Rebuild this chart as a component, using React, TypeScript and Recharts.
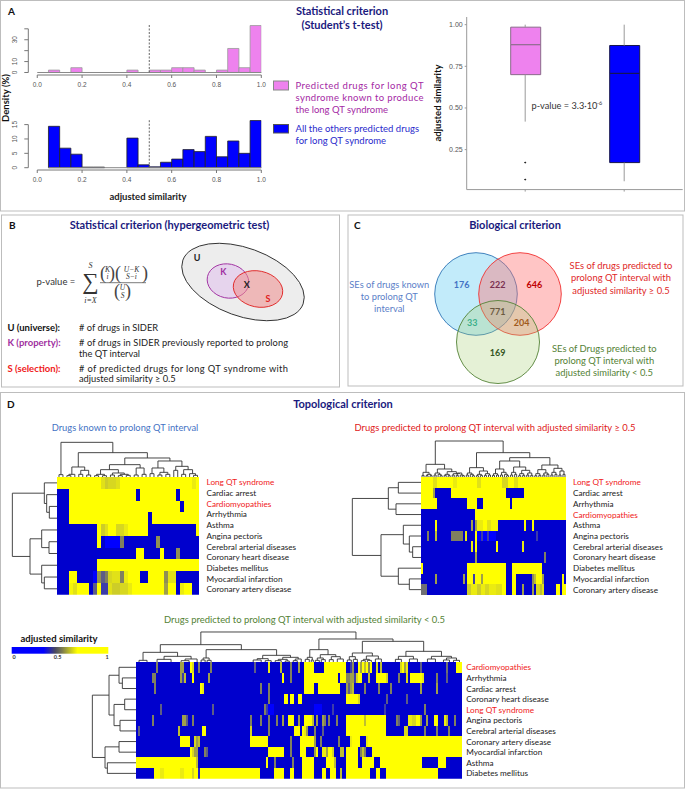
import React from 'react';
import {
  BarChart, Bar, ComposedChart, Line, ScatterChart, Scatter, XAxis, YAxis, ReferenceLine, Cell,
} from 'recharts';

// panel A histograms
const histMids = [0.025, 0.075, 0.125, 0.175, 0.225, 0.275, 0.325, 0.375, 0.425, 0.475, 0.525, 0.575, 0.625, 0.675, 0.725, 0.775, 0.825, 0.875, 0.925, 0.975];
const densityKnown = [0, 2.2, 0, 4.4, 0, 0, 0, 0, 2.2, 0, 2.2, 2.2, 4.4, 4.4, 2.2, 0, 2.2, 22, 4.4, 43];
const densityOthers = [0, 14.4, 6.8, 4.7, 0.2, 0.2, 0, 0, 10.3, 1, 0.3, 1.9, 3, 6.3, 5.6, 10.9, 3.8, 9.3, 5, 16.4];
const histXTicks = [0, 0.2, 0.4, 0.6, 0.8, 1];

// panel A box plot
const boxCategories = ['known', 'others'];
const boxQ1 = [0.7, 0.172];
const boxMedian = [0.88, 0.708];
const boxQ3 = [0.985, 0.875];
const whiskerLow = [0.418, 0.06];
const whiskerHigh = [1, 1];
const outlierA = [0.172, null];
const outlierB = [0.07, null];
const boxFills = ['#EE82EE', '#0000FF'];
const boxStrokes = ['#8a6a8a', '#16164a'];

// panel B and C diagrams
const setEllipses = [
  { x: 243, y: 69, rx: 64, ry: 34, rot: 20 },
  { x: 228, y: 68, rx: 21, ry: 17, rot: 12 },
  { x: 258, y: 76, rx: 25, ry: 18, rot: 12 },
];
const setEllipseFills = ['#EDEDED', '#E4D0EC', '#EE8C8C'];
const setEllipseOpacity = [1, 0.9, 0.55];
const setEllipseStrokes = ['#333333', '#A030A0', '#E02828'];
const vennCircles = [
  { x: 128, y: 79, rx: 41.3, ry: 41.3, rot: 0 },
  { x: 172, y: 79, rx: 41.3, ry: 41.3, rot: 0 },
  { x: 150, y: 127, rx: 41.5, ry: 41.5, rot: 0 },
];
const vennFills = ['#78D2F5', '#FF6E6E', '#A8D278'];
const vennOpacity = [0.45, 0.4, 0.3];
const vennStrokes = ['#2E75B6', '#F03030', '#548235'];

// heatmaps: each row is a list of [similarity, number of columns]
type Run = [number, number];
const heat1Labels = ['Long QT syndrome', 'Cardiac arrest', 'Cardiomyopathies', 'Arrhythmia', 'Asthma', 'Angina pectoris', 'Cerebral arterial diseases', 'Coronary heart disease', 'Diabetes mellitus', 'Myocardial infarction', 'Coronary artery disease'];
const heat1Rows: Run[][] = [
  [[1, 11], [0.85, 1], [0.75, 1], [0.8, 2], [0.85, 1], [1, 18], [0.9, 1], [1, 1]],
  [[0, 3], [1, 17], [0, 1], [1, 9], [0, 1], [1, 5]],
  [[0, 3], [1, 28], [0, 1], [1, 4]],
  [[0, 3], [1, 20], [0, 1], [1, 12]],
  [[0, 10], [1, 1], [0.75, 1], [0.85, 1], [1, 2], [0.8, 2], [0.9, 1], [1, 5], [0, 12], [1, 1]],
  [[0, 10], [1, 1], [0, 1], [0.1, 4], [0.5, 1], [0, 8], [0.55, 1], [0, 10]],
  [[0, 20], [1, 2], [0, 4], [1, 1], [0, 3], [0.55, 1], [0, 5]],
  [[0, 10], [1, 26]],
  [[0, 3], [1, 2], [0, 4], [0.1, 1], [0.55, 1], [0.4, 1], [0.5, 1], [0.8, 1], [0.85, 2], [0.5, 1], [0.9, 1], [1, 3], [0, 2], [1, 4], [0.55, 1], [0.85, 2], [0, 6]],
  [[0, 3], [0.95, 1], [0.85, 1], [1, 3], [0, 1], [0.4, 1], [1, 1], [0.3, 2], [0.85, 1], [0.75, 2], [0.8, 2], [0.9, 1], [1, 8], [0.6, 1], [1, 2], [0, 1], [0.9, 1], [1, 2], [0, 2]],
];
const heat2Labels = ['Long QT syndrome', 'Cardiac arrest', 'Arrhythmia', 'Cardiomyopathies', 'Asthma', 'Angina pectoris', 'Cerebral arterial diseases', 'Coronary heart disease', 'Diabetes mellitus', 'Myocardial infarction', 'Coronary artery disease'];
const heat2Rows: Run[][] = [
  [[1, 6], [0.85, 2], [1, 8], [0.9, 2], [1, 10], [0.85, 2], [1, 10], [0.8, 3], [1, 3], [0.85, 2], [1, 24]],
  [[1, 6], [0.6, 1], [0, 8], [1, 27], [0, 9], [1, 21]],
  [[1, 8], [0, 15], [1, 5], [0, 3], [1, 13], [0, 1], [1, 27]],
  [[0, 27], [1, 45]],
  [[0, 7], [1, 1], [0, 17], [0.6, 1], [0, 1], [0.6, 1], [0.9, 3], [1, 2], [0.85, 2], [0.95, 3], [0, 13], [1, 1], [0, 3], [1, 1], [0, 16]],
  [[0, 3], [0.5, 1], [0, 3], [0.7, 1], [0, 7], [0.5, 6], [0, 1], [0.9, 1], [0, 4], [1, 1], [0.1, 2], [0.3, 1], [0.1, 2], [0.3, 1], [0.1, 3], [0, 20], [0.3, 1], [0, 14]],
  [[0, 25], [0.9, 1], [0, 1], [1, 1], [0, 9], [1, 1], [0, 12], [0.9, 1], [0, 21]],
  [[0, 27], [0.6, 1], [0, 33], [0.5, 1], [0, 10]],
  [[1, 1], [0, 22], [1, 19], [0, 3], [1, 15], [0, 12]],
  [[0, 7], [0.6, 1], [0, 13], [0.6, 1], [0, 1], [1, 3], [0.3, 1], [1, 3], [0.6, 1], [1, 11], [0, 3], [1, 2], [0, 8], [0.55, 1], [0.7, 1], [1, 3], [0.6, 1], [0, 9], [1, 1], [0, 1]],
  [[0.45, 3], [0, 20], [0.75, 2], [0.9, 3], [0.75, 2], [0.9, 2], [0.8, 2], [0.9, 3], [0.85, 3], [1, 2], [0, 3], [1, 2], [0, 3], [0.6, 1], [0, 4], [0.6, 1], [0, 1], [0.8, 2], [0.7, 1], [0.85, 1], [0, 6], [1, 2], [0, 1], [1, 2]],
];
const heat3Labels = ['Cardiomyopathies', 'Arrhythmia', 'Cardiac arrest', 'Coronary heart disease', 'Long QT syndrome', 'Angina pectoris', 'Cerebral arterial diseases', 'Coronary artery disease', 'Myocardial infarction', 'Asthma', 'Diabetes mellitus'];
const heat3Rows: Run[][] = [
  [[0, 10], [0.5, 1], [0, 11], [0.6, 2], [0, 3], [1, 1], [0.8, 1], [0, 2], [0.5, 1], [0, 5], [0.5, 1], [0, 21], [0.4, 1], [0, 6], [0.9, 1], [0, 5], [0.7, 1], [0, 4], [0.5, 1], [0, 3], [0.6, 1], [0, 2], [1, 5], [0, 5], [1, 11], [0, 2], [0.3, 1], [0.55, 1], [0, 2], [1, 1], [0.6, 1], [1, 1], [0.7, 1], [1, 1], [0.5, 1], [1, 1], [0, 2], [0.8, 1], [0, 1], [0.7, 1], [0, 9], [0.8, 1], [1, 1], [0.6, 1], [0.9, 1], [0, 6], [0.4, 1], [0, 12], [0.45, 1], [0, 4], [1, 3]],
  [[0, 8], [0.5, 2], [0, 12], [0.6, 1], [0.3, 1], [0.7, 1], [0, 3], [1, 1], [0, 7], [0.6, 1], [0, 36], [1, 1], [0, 3], [0.5, 1], [0, 6], [1, 17], [0, 1], [1, 3], [0.5, 2], [0.6, 2], [0.3, 1], [0.8, 1], [1, 2], [0, 3], [0.7, 1], [0, 3], [1, 5], [0.8, 1], [0, 5], [0.5, 1], [0, 3], [0.8, 1], [0, 1], [1, 6], [0.9, 1], [0, 6], [0.5, 1], [0, 4], [0.4, 1], [0, 7]],
  [[0, 9], [0.5, 1], [0, 22], [1, 1], [0.9, 1], [0, 28], [0.5, 1], [0, 3], [0.5, 1], [0, 17], [1, 5], [0, 2], [1, 11], [0, 3], [0.6, 1], [0.4, 1], [0.6, 1], [0.7, 1], [0, 5], [0.5, 1], [0, 6], [0.5, 1], [0, 5], [0.5, 1], [0, 14], [0.6, 1], [0, 7], [0.6, 1], [0, 12]],
  [[0, 66], [0.5, 1], [0, 7], [1, 2], [0, 1], [1, 2], [0, 2], [1, 2], [0, 22], [1, 6], [0.8, 1], [0, 13], [0.4, 1], [0, 9], [0.4, 1], [0, 27]],
  [[0, 12], [0.4, 1], [0, 25], [0.4, 1], [0, 25], [0.5, 1], [0.3, 1], [0.1, 3], [0, 20], [0.1, 4], [0, 5], [0.3, 1], [0, 25], [0.3, 1], [0, 19], [0.5, 1], [0, 18]],
  [[0, 8], [0.5, 1], [0, 14], [0.6, 2], [0.4, 1], [0, 2], [0.5, 1], [0, 28], [0.5, 1], [0, 4], [0.5, 1], [0, 3], [0.5, 1], [0, 3], [0.5, 1], [0, 2], [0.6, 1], [0, 2], [1, 3], [0, 2], [0.6, 1], [0, 2], [1, 4], [0.7, 1], [0, 1], [0.6, 1], [0, 2], [0.6, 1], [0.5, 1], [0, 1], [0.5, 1], [0, 3], [0.5, 1], [0, 4], [1, 9], [0.7, 1], [1, 10], [0, 5], [0.5, 1], [0.4, 1], [0, 4], [0.9, 2], [0.8, 2], [1, 2], [0.6, 1], [0, 2], [0.6, 1], [0, 3], [1, 2], [0, 3], [0.9, 1], [0.7, 1], [0, 3], [0.5, 1], [0, 3]],
  [[0, 1], [0.4, 1], [0, 19], [0.7, 1], [0, 11], [1, 2], [0, 22], [0.8, 1], [0, 8], [0.5, 1], [0, 12], [1, 3], [0, 1], [1, 1], [0.9, 1], [0.6, 1], [0, 3], [0.5, 1], [0, 3], [0.4, 1], [0, 11], [1, 20], [0, 9], [0.8, 2], [0, 8], [0.5, 1], [0, 5], [0.5, 1], [0, 5], [0.5, 1], [0, 6]],
  [[0, 22], [1, 5], [0, 2], [0.8, 1], [0.6, 1], [0.7, 1], [0, 25], [1, 9], [0, 11], [0.5, 1], [0, 4], [1, 7], [0.6, 1], [0, 2], [0.5, 1], [0, 8], [0.5, 1], [0, 5], [0.9, 1], [1, 4], [0, 3], [0.9, 1], [1, 47]],
  [[0, 27], [1, 1], [0.8, 1], [0.6, 2], [0, 3], [0.5, 1], [0.4, 1], [0, 30], [1, 8], [0, 3], [0.5, 1], [0, 4], [1, 3], [0, 4], [0.6, 1], [1, 1], [0, 2], [0.9, 2], [0.6, 1], [1, 2], [0.8, 1], [0, 3], [0.7, 2], [0, 1], [1, 6], [0, 1], [0.5, 1], [0.7, 1], [0.5, 1], [0, 3], [1, 45]],
  [[1, 30], [0.7, 1], [0, 34], [1, 1], [0, 3], [0.5, 1], [0, 8], [0.5, 1], [0, 4], [1, 6], [0, 6], [1, 4], [0.7, 1], [0, 5], [1, 6], [0, 2], [1, 6], [0, 3], [1, 21], [0, 8], [1, 4], [0, 8]],
  [[0, 9], [1, 3], [0.9, 2], [1, 8], [0.9, 2], [1, 4], [0.8, 1], [1, 2], [0.2, 1], [1, 30], [0, 7], [1, 5], [0, 3], [1, 2], [0, 4], [1, 6], [0, 4], [1, 2], [0, 2], [1, 3], [0, 2], [0.7, 1], [0, 2], [1, 12], [0, 3], [1, 2], [0, 3], [1, 26], [0, 12]],
];

// dendrograms: [merge height, left, right]; a bare number is a leaf index
type Tree = number | [number, Tree, Tree];
const heat1RowTree: Tree = [134, [38, 0, [31, 1, [23, 2, 3]]], [81, [46, 4, [24, 5, 6]], [46, 7, [38, 8, 9]]]];
const heat1ColTree: Tree = [104, [7, 0, 1], [73,
  [30, [8, [4, 2, 3], 4], [20, [8, 5, 6], [6, 7, 8]]],
  [57,
    [37, [22, [8, [4, 9, 10], [4, 11, 12]], [12, [6, 13, 14], [8, [4, 15, 16], [5, 17, 18]]]], [27, [6, 19, 20], [8, 21, 22]]],
    [48, [27, [10, 23, 24], [14, [6, 25, 26], [8, 27, 28]]], [32, [20, 29, 30], [22, [8, 31, 32], [10, 33, [5, 34, 35]]]]],
  ],
]];
const heat2RowTree: Tree = [206, [98, [68, 0, 1], [75, 2, 3]], [120, [53, 4, [35, 5, [25, 6, 7]]], [68, 8, [35, 9, 10]]]];
const heat2ColTree: Tree = [108,
  [38, [14, [5, 0, 1], [8, [4, 2, 3], [4, 4, 5]]], [24, [12, [6, 6, 7], [8, 8, [4, 9, 10]]], [16, [8, [5, 11, 12], [4, 13, 14]], [10, [6, 15, 16], [12, [5, 17, 18], [6, 19, [4, 20, 21]]]]]]],
  [73,
    [28, [12, [6, 22, 23], [8, 24, [4, 25, 26]]], [18, [8, [4, 27, 28], [5, 29, 30]], [10, [5, 31, 32], [6, 33, 34]]]],
    [58,
      [48, [24, [10, [5, 35, 36], [6, 37, 38]], [14, [6, 39, 40], [8, 41, [4, 42, 43]]]], [30, [14, [6, 44, 45], [8, 46, 47]], [20, [10, [4, 48, 49], [5, 50, 51]], [12, [6, 52, 53], [5, 54, 55]]]]],
      [36, [22, [10, [4, 56, 57], [5, 58, 59]], [12, [6, 60, 61], [8, 62, 63]]], [26, [14, [6, 64, 65], [8, 66, 67]], [18, [6, 68, 69], [8, 70, 71]]]],
    ],
  ],
];
const heat3RowTree: Tree = [131, [81, [51, 0, [41, 1, 2]], [66, [34, 3, 4], [48, 5, 6]]], [93, [51, 7, 8], [86, 9, 10]]];
const heat3ColTree: Tree = [90,
  [52,
    [29, [5, 1, 5], [17, [8, 10, 17], [9, [4, 22, 26], 30]]],
    [37, [12, [6, 32, 34], [5, 35, 37]], [20, [10, [6, 58, 62], [4, 64, 67]], [14, [8, [4, 69, 72], [3, 74, 76]], [9, [4, 78, 80], 82]]]],
  ],
  [69,
    [37, [14, [8, 84, 86], [6, 87, 88]], [22, [12, [5, 89, 91], [7, 92, 94]], [16, [7, 96, 98], [9, 100, 103]]]],
    [62,
      [27, [16, [6, 105, 107], [8, 108, 110]], [18, [8, [4, 112, 114], [5, 115, 117]], [9, 119, 122]]],
      [32, [17, [8, 129, 132], [9, 136, 140]], [17, [9, 145, 149], [12, [6, 153, 156], [5, 158, 161]]]],
    ],
  ],
];
const redLabels = ['Long QT syndrome', 'Cardiomyopathies'];

const TEXT = 'Lato, sans-serif';
const AXIS_TEXT = '"Liberation Sans", Arial, sans-serif';
const NAVY = '#1A1A7E';
const expand = (runs: Run[]) => runs.flatMap(([v, n]) => Array(n).fill(v) as number[]);

const heatStops: [number, number[]][] = [
  [0, [0, 0, 205]], [0.1, [0, 0, 255]], [0.3, [60, 60, 170]], [0.5, [128, 128, 96]], [0.75, [205, 205, 40]], [1, [255, 255, 0]],
];
const heatColor = (v: number) => {
  const i = Math.max(0, heatStops.findIndex(([s]) => s >= v) - 1);
  const [a, ca] = heatStops[i];
  const [b, cb] = heatStops[i + 1];
  const t = (v - a) / (b - a);
  const ch = ca.map((c, k) => Math.round(c + (cb[k] - c) * t));
  return `rgb(${ch[0]},${ch[1]},${ch[2]})`;
};

type Seg = [[number, number], [number, number]];
// walks a tree and lists its line pieces as [position, height] pairs
const walk = (t: Tree, out: Seg[]): [number, number] => {
  if (typeof t === 'number') return [t + 0.5, 0];
  const [h, l, r] = t;
  const [pl, hl] = walk(l, out);
  const [pr, hr] = walk(r, out);
  out.push([[pl, hl], [pl, h]], [[pl, h], [pr, h]], [[pr, h], [pr, hr]]);
  return [(pl + pr) / 2, h];
};

interface HeatProps {
  left: number; top: number; width: number; height: number;
  rows: Run[][]; labels: string[]; rowTree: Tree; colTree: Tree;
  treeLeft: number; treeTop: number; labelWidth: number; labelGap: number;
}

const Heatmap = ({ left, top, width, height, rows, labels, rowTree, colTree, treeLeft, treeTop, labelWidth, labelGap }: HeatProps) => {
  const nCols = expand(rows[0]).length;
  const nRows = rows.length;
  const cw = width / nCols;
  const rh = height / nRows;
  const cells = rows.flatMap((row, r) => expand(row).map((value, c) => ({ x: c + 0.5, y: r + 0.5, value })));
  const rowSegs: Seg[] = [];
  const colSegs: Seg[] = [];
  walk(rowTree, rowSegs);
  walk(colTree, colSegs);
  const labelTicks = labels.map((_, i) => ((i + 0.5) * nRows) / labels.length);
  return (
    <div style={{ position: 'absolute', left: left - treeLeft, top: top - treeTop }}>
      <ScatterChart width={treeLeft + width + labelWidth} height={treeTop + height} margin={{ top: 0, right: 0, bottom: 0, left: 0 }}>
        <XAxis type="number" dataKey="x" hide domain={[-treeLeft / cw, nCols]} allowDataOverflow />
        <YAxis type="number" dataKey="y" orientation="right" reversed width={labelWidth} domain={[-treeTop / rh, nRows]} allowDataOverflow
          ticks={labelTicks} interval={0} axisLine={false} tickLine={false} tickSize={0} tickMargin={0}
          tick={(p: any) => {
            const name = labels[labelTicks.indexOf(p.payload.value)];
            return (
              <text x={p.x + labelGap} y={p.y + 3} fontSize={8.2} fontFamily={TEXT} fill={redLabels.includes(name) ? '#F02020' : '#222'}>{name}</text>
            );
          }} />
        <Scatter data={cells} isAnimationActive={false}
          shape={(p: any) => (
            <rect x={p.cx - cw / 2} y={p.cy - rh / 2} width={cw} height={rh} fill={heatColor(p.payload.value)} shapeRendering="crispEdges" />
          )} />
        {colSegs.map(([a, b], i) => (
          <ReferenceLine key={`c${i}`} stroke="#333" strokeWidth={0.9}
            segment={[{ x: a[0], y: -a[1] / 3 / rh }, { x: b[0], y: -b[1] / 3 / rh }]} />
        ))}
        {rowSegs.map(([a, b], i) => (
          <ReferenceLine key={`r${i}`} stroke="#333" strokeWidth={0.9}
            segment={[{ x: -a[1] / 3 / cw, y: a[0] }, { x: -b[1] / 3 / cw, y: b[0] }]} />
        ))}
      </ScatterChart>
    </div>
  );
};

interface HistProps {
  top: number; height: number; values: number[]; fill: string; stroke: string;
  yDomain: [number, number]; yTicks: number[]; yLabels: number[]; dashTop: number; baseFrom: number;
}

const Histogram = ({ top, height, values, fill, stroke, yDomain, yTicks, yLabels, dashTop, baseFrom }: HistProps) => {
  const data = histMids.map((mid, i) => ({ mid, density: values[i] }));
  return (
    <div style={{ position: 'absolute', left: 0, top }}>
      <BarChart width={272} height={height} data={data} margin={{ top: 0, right: 10.7, bottom: 0, left: 0 }} barGap={0}>
        <XAxis type="number" dataKey="mid" domain={[-0.04, 1]} allowDataOverflow ticks={histXTicks} interval={0} height={16}
          tickFormatter={(v) => v.toFixed(1)} axisLine={false} tickSize={3} tickMargin={4} stroke="#777"
          tick={{ fontSize: 6.5, fontFamily: AXIS_TEXT, fill: '#555' }} />
        <YAxis type="number" domain={yDomain} allowDataOverflow ticks={yTicks} interval={0} width={28.3} axisLine={false} tickSize={4} stroke="#777"
          tick={(p: any) => (yLabels.includes(p.payload.value) ? (
            <text x={17} y={p.y} fontSize={6.5} fontFamily={AXIS_TEXT} fill="#555" textAnchor="middle" transform={`rotate(-90 17 ${p.y})`}>{p.payload.value}</text>
          ) : <g />)} />
        <Bar dataKey="density" barSize={11.2} fill={fill} stroke={stroke} strokeWidth={0.8} isAnimationActive={false} />
        <ReferenceLine stroke="#888" segment={[{ x: baseFrom, y: 0 }, { x: 1, y: 0 }]} />
        <ReferenceLine stroke="#777" segment={[{ x: 0, y: yDomain[0] }, { x: 1, y: yDomain[0] }]} />
        <ReferenceLine stroke="#777" segment={[{ x: -0.04, y: yTicks[0] }, { x: -0.04, y: yTicks[yTicks.length - 1] }]} />
        <ReferenceLine stroke="#666" strokeDasharray="2 1.5" segment={[{ x: 0.5, y: 0 }, { x: 0.5, y: dashTop }]} />
      </BarChart>
    </div>
  );
};

const BoxPlot = () => {
  const data = boxCategories.map((name, i) => ({
    name,
    base: boxQ1[i],
    lower: boxMedian[i] - boxQ1[i],
    upper: boxQ3[i] - boxMedian[i],
    outA: outlierA[i],
    outB: outlierB[i],
  }));
  return (
    <div style={{ position: 'absolute', left: 430, top: 16.7 }}>
      <ComposedChart width={252.7} height={178.6} data={data} margin={{ top: 0, right: 0, bottom: 0, left: 0 }}>
        <XAxis dataKey="name" height={6} padding={{ left: 9, right: 9 }} stroke="#999" tickSize={2} tickFormatter={() => ''} />
        <YAxis type="number" domain={[0.01, 1.046]} allowDataOverflow ticks={[0.25, 0.5, 0.75, 1]} interval={0} width={36.7} stroke="#999" tickSize={2}
          tickFormatter={(v) => v.toFixed(2)} tick={{ fontSize: 7, fontFamily: AXIS_TEXT, fill: '#555' }} />
        {boxCategories.map((name, i) => (
          <React.Fragment key={name}>
            <ReferenceLine stroke="#999" segment={[{ x: name, y: whiskerLow[i] }, { x: name, y: boxQ1[i] }]} />
            <ReferenceLine stroke="#999" segment={[{ x: name, y: boxQ3[i] }, { x: name, y: whiskerHigh[i] }]} />
          </React.Fragment>
        ))}
        <Bar dataKey="base" stackId="box" barSize={30} fill="none" stroke="none" isAnimationActive={false} />
        <Bar dataKey="lower" stackId="box" barSize={30} isAnimationActive={false}>
          {boxCategories.map((name, i) => <Cell key={name} fill={boxFills[i]} stroke={boxStrokes[i]} />)}
        </Bar>
        <Bar dataKey="upper" stackId="box" barSize={30} isAnimationActive={false}>
          {boxCategories.map((name, i) => <Cell key={name} fill={boxFills[i]} stroke={boxStrokes[i]} />)}
        </Bar>
        <Line dataKey="outA" stroke="none" dot={{ r: 0.5, fill: '#111', stroke: '#111' }} isAnimationActive={false} />
        <Line dataKey="outB" stroke="none" dot={{ r: 0.5, fill: '#111', stroke: '#111' }} isAnimationActive={false} />
      </ComposedChart>
    </div>
  );
};

interface ShapeDatum { x: number; y: number; rx: number; ry: number; rot: number }

const SetDiagram = ({ left, top, width, height, shapes, fills, opacity, strokes }: {
  left: number; top: number; width: number; height: number; shapes: ShapeDatum[]; fills: string[]; opacity: number[]; strokes: string[];
}) => (
  <div style={{ position: 'absolute', left, top }}>
    <ScatterChart width={width} height={height} margin={{ top: 0, right: 0, bottom: 0, left: 0 }}>
      <XAxis type="number" dataKey="x" hide domain={[0, width]} />
      <YAxis type="number" dataKey="y" hide reversed domain={[0, height]} />
      <Scatter data={shapes} isAnimationActive={false}
        shape={(p: any) => {
          const i = shapes.indexOf(p.payload);
          const { rx, ry, rot } = p.payload;
          return (
            <ellipse cx={p.cx} cy={p.cy} rx={rx} ry={ry} transform={`rotate(${rot} ${p.cx} ${p.cy})`}
              fill={fills[i]} fillOpacity={opacity[i]} stroke={strokes[i]} strokeWidth={0.9} />
          );
        }} />
    </ScatterChart>
  </div>
);

const T = ({ x, y, s = 10, c = '#222', b, a, len, f, i, children }: any) => (
  <text x={x} y={y} fontSize={s} fill={c} fontWeight={b ? 700 : 400} fontStyle={i ? 'italic' : 'normal'} textAnchor={a ?? 'start'}
    fontFamily={f ?? TEXT} textLength={len} lengthAdjust={len ? 'spacing' : undefined}>{children}</text>
);
const SERIF = '"Liberation Serif", serif';

const App = () => (
  <div style={{ position: 'absolute', left: 0, top: 0, width: 685, height: 789, background: '#fff', overflow: 'hidden' }}>
    <Histogram top={25} height={66} values={densityKnown} fill="#EE82EE" stroke="#999" yDomain={[-2.3, 43.5]} yTicks={[0, 10, 20, 30, 40]} yLabels={[0, 10, 30]} dashTop={43.5} baseFrom={0} />
    <Histogram top={120} height={66} values={densityOthers} fill="#0000FF" stroke="#222" yDomain={[-0.8, 16.6]} yTicks={[0, 5, 10, 15]} yLabels={[0, 5, 10, 15]} dashTop={16.6} baseFrom={0.05} />
    <BoxPlot />
    <SetDiagram left={0} top={213} width={340} height={174} shapes={setEllipses} fills={setEllipseFills} opacity={setEllipseOpacity} strokes={setEllipseStrokes} />
    <SetDiagram left={348} top={215} width={335} height={171} shapes={vennCircles} fills={vennFills} opacity={vennOpacity} strokes={vennStrokes} />
    <Heatmap left={57} top={477.3} width={142.5} height={117.7} rows={heat1Rows} labels={heat1Labels} rowTree={heat1RowTree} colTree={heat1ColTree} treeLeft={46} treeTop={36} labelWidth={110} labelGap={7} />
    <Heatmap left={421} top={477.3} width={145} height={118} rows={heat2Rows} labels={heat2Labels} rowTree={heat2RowTree} colTree={heat2ColTree} treeLeft={70} treeTop={37} labelWidth={116} labelGap={7} />
    <Heatmap left={135.5} top={662.3} width={326.5} height={116.7} rows={heat3Rows} labels={heat3Labels} rowTree={heat3RowTree} colTree={heat3ColTree} treeLeft={45} treeTop={31} labelWidth={125} labelGap={3.7} />

    <svg width={685} height={789} style={{ position: 'absolute', left: 0, top: 0, pointerEvents: 'none' }}>
      <defs>
        <linearGradient id="simGrad" x1="0" y1="0" x2="1" y2="0">
          <stop offset="0" stopColor="#0000FF" />
          <stop offset="0.33" stopColor="#0000FF" />
          <stop offset="0.45" stopColor="#4A4A60" />
          <stop offset="0.52" stopColor="#7A7A50" />
          <stop offset="0.68" stopColor="#FFFF00" />
          <stop offset="1" stopColor="#FFFF00" />
        </linearGradient>
      </defs>
      <g fill="none" stroke="#BDBDBD" strokeWidth={1}>
        <rect x={0.5} y={0.5} width={684} height={210.5} />
        <rect x={1.5} y={215} width={338} height={172} />
        <rect x={348} y={215} width={335} height={171} />
        <rect x={0.5} y={392.5} width={684} height={395.5} />
      </g>

      {/* panel A */}
      <T x={8} y={15} s={10} b c="#111">A</T>
      <T x={342} y={15} s={11} b c={NAVY} a="middle">Statistical criterion</T>
      <T x={342} y={28.5} s={11} b c={NAVY} a="middle">(Student’s t-test)</T>
      <g transform="rotate(-90 9 98)"><T x={9} y={98} s={9.5} b c="#111" a="middle">Density (%)</T></g>
      <T x={148} y={200} s={9.5} b c="#222" a="middle">adjusted similarity</T>
      <rect x={273.5} y={81} width={15} height={9} fill="#EE82EE" stroke="#888" />
      <T x={295.5} y={89} s={9.5} c="#A428A4" len={128}>Predicted drugs for long QT</T>
      <T x={295.5} y={101} s={9.5} c="#A428A4" len={128}>syndrome known to produce</T>
      <T x={295.5} y={113} s={9.5} c="#A428A4">the long QT syndrome</T>
      <rect x={273.5} y={124.5} width={15} height={8.5} fill="#0000FF" stroke="#555" />
      <T x={295.5} y={132} s={9.5} c="#2A2ACC">All the others predicted drugs</T>
      <T x={295.5} y={144} s={9.5} c="#2A2ACC">for long QT syndrome</T>
      <g transform="rotate(-90 441 103)"><T x={441} y={103} s={9.5} b c="#111" a="middle">adjusted similarity</T></g>
      <T x={531.5} y={109} s={9.2} c="#333">p-value = 3.3·10</T>
      <T x={597} y={105} s={5.5} c="#333">-6</T>

      {/* panel B */}
      <T x={9} y={229} s={10} b c="#111">B</T>
      <T x={169.5} y={229} s={11} b c={NAVY} a="middle">Statistical criterion (hypergeometric test)</T>
      <T x={36.5} y={285} s={9.5} c="#333">p-value =</T>
      <T x={90.5} y={288.5} s={23} f={SERIF} c="#333" a="middle">∑</T>
      <T x={90.5} y={268} s={8} f={SERIF} i c="#333" a="middle">S</T>
      <T x={90.5} y={303} s={8} f={SERIF} i c="#333" a="middle">i=X</T>
      <line x1={100} x2={146} y1={282.7} y2={282.7} stroke="#444" strokeWidth={0.7} />
      <T x={103} y={279} s={18} f={SERIF} c="#444" a="middle">(</T>
      <T x={107.5} y={271.5} s={7.5} f={SERIF} i c="#333" a="middle">K</T>
      <T x={107.5} y={279} s={7.5} f={SERIF} i c="#333" a="middle">i</T>
      <T x={112} y={279} s={18} f={SERIF} c="#444" a="middle">)</T>
      <T x={118} y={279} s={18} f={SERIF} c="#444" a="middle">(</T>
      <T x={131.5} y={271.5} s={7.5} f={SERIF} i c="#333" a="middle">U−K</T>
      <T x={131.5} y={279} s={7.5} f={SERIF} i c="#333" a="middle">S−i</T>
      <T x={145} y={279} s={18} f={SERIF} c="#444" a="middle">)</T>
      <T x={117} y={297} s={18} f={SERIF} c="#444" a="middle">(</T>
      <T x={122.5} y={290} s={7.5} f={SERIF} i c="#333" a="middle">U</T>
      <T x={122.5} y={298} s={7.5} f={SERIF} i c="#333" a="middle">S</T>
      <T x={128} y={297} s={18} f={SERIF} c="#444" a="middle">)</T>
      <T x={197} y={261} s={9} b c="#222" a="middle">U</T>
      <T x={223.3} y={274.5} s={9} b c="#A030A0" a="middle">K</T>
      <T x={246.7} y={287.5} s={9} b c="#222" a="middle">X</T>
      <T x={268} y={301.5} s={9} b c="#E02020" a="middle">S</T>
      <T x={7.5} y={330.5} s={9.5} b c="#111">U (universe):</T>
      <T x={79} y={330.5} s={9.3}># of drugs in SIDER</T>
      <T x={7.5} y={346} s={9.5} b c="#A030A0">K (property):</T>
      <T x={79} y={346} s={9.3} len={209}># of drugs in SIDER previously reported to prolong</T>
      <T x={79} y={357} s={9.3}>the QT interval</T>
      <T x={7.5} y={371.5} s={9.5} b c="#F02020">S (selection):</T>
      <T x={79} y={371.5} s={9.3} len={209}># of predicted drugs for long QT syndrome with</T>
      <T x={79} y={382} s={9.3}>adjusted similarity ≥ 0.5</T>

      {/* panel C */}
      <T x={354} y={229} s={10} b c="#111">C</T>
      <T x={515} y={229} s={11} b c={NAVY} a="middle">Biological criterion</T>
      <T x={461.7} y={287.5} s={9} b c="#4472C4" a="middle">176</T>
      <T x={497.7} y={287.5} s={9} b c="#7A3050" a="middle">222</T>
      <T x={534.3} y={287.5} s={9} b c="#C00000" a="middle">646</T>
      <T x={497.7} y={315} s={9} b c="#6A5A40" a="middle">771</T>
      <T x={472.3} y={325.5} s={9} b c="#3CB08A" a="middle">33</T>
      <T x={521.7} y={325.5} s={9} b c="#A05A20" a="middle">204</T>
      <T x={497.7} y={356} s={9} b c="#375623" a="middle">169</T>
      <T x={389.3} y={287.5} s={9.3} c="#5B80C8" a="middle">SEs of drugs known</T>
      <T x={389.3} y={300} s={9.3} c="#5B80C8" a="middle">to prolong QT</T>
      <T x={389.3} y={312} s={9.3} c="#5B80C8" a="middle">interval</T>
      <T x={621} y={268.5} s={9.4} c="#E02828" a="middle">SEs of drugs predicted to</T>
      <T x={621} y={281} s={9.4} c="#E02828" a="middle">prolong QT interval with</T>
      <T x={621} y={293.5} s={9.4} c="#E02828" a="middle">adjusted similarity ≥ 0.5</T>
      <T x={604.3} y={351.5} s={9.4} c="#548235" a="middle">SEs of Drugs predicted to</T>
      <T x={604.3} y={364} s={9.4} c="#548235" a="middle">prolong QT interval with</T>
      <T x={604.3} y={376} s={9.4} c="#548235" a="middle">adjusted similarity &lt; 0.5</T>

      {/* panel D */}
      <T x={7} y={408} s={10} b c="#111">D</T>
      <T x={343} y={408} s={11} b c={NAVY} a="middle">Topological criterion</T>
      <T x={125} y={431} s={9.3} c="#4472C4" a="middle">Drugs known to prolong QT interval</T>
      <T x={495} y={431} s={9.45} c="#E02020" a="middle">Drugs predicted to prolong QT interval with adjusted similarity ≥ 0.5</T>
      <T x={304.5} y={623} s={9.45} c="#548235" a="middle">Drugs predicted to prolong QT interval with adjusted similarity &lt; 0.5</T>
      <T x={59} y={641.5} s={9.5} b c="#111" a="middle">adjusted similarity</T>
      <rect x={11.7} y={647} width={96.6} height={6.7} fill="url(#simGrad)" />
      <T x={14} y={659} s={5.5} b c="#333" a="middle">0</T>
      <T x={57.7} y={659} s={5.5} b c="#333" a="middle">0.5</T>
      <T x={107} y={659} s={5.5} b c="#333" a="middle">1</T>
    </svg>
  </div>
);

export default App;
